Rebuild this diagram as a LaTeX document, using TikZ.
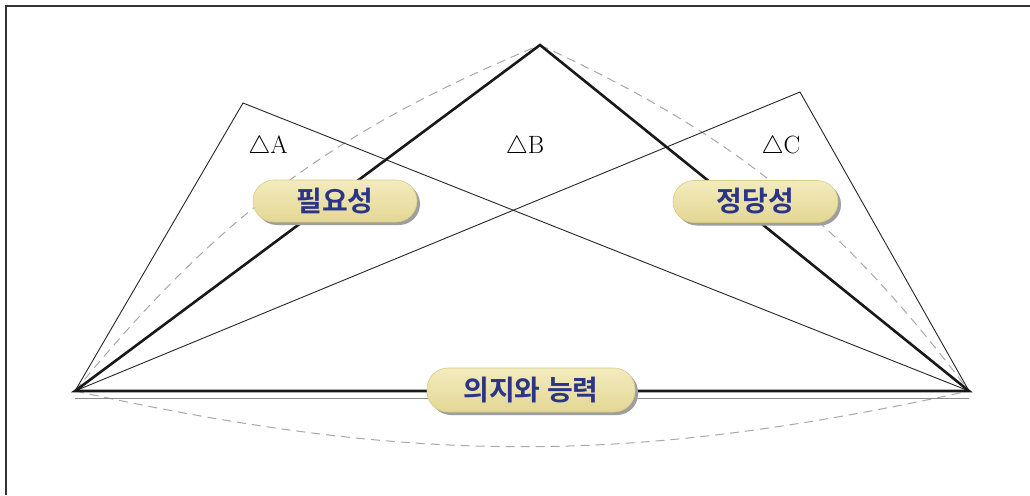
\documentclass[tikz,border=0pt]{standalone}
\usepackage{fontspec}
\newfontfamily\kor{Noto Sans CJK KR Bold}
\usetikzlibrary{shadows}
\definecolor{navy}{HTML}{2B3585}
\definecolor{pilltop}{HTML}{F3EBBE}
\definecolor{pillbot}{HTML}{E4D794}
\definecolor{pilledge}{HTML}{D9CC8A}
\definecolor{dashgray}{HTML}{A8A8A8}
\begin{document}
\begin{tikzpicture}[x=1pt,y=1pt,
  thinline/.style={line width=0.9pt, black!85},
  thickline/.style={line width=2.6pt, black!90, line join=miter},
  arcline/.style={line width=1pt, dashgray, dash pattern=on 9pt off 6pt},
  pill/.style={rounded corners=21pt, minimum height=42pt, inner sep=0pt,
    top color=pilltop, bottom color=pillbot, draw=pilledge, line width=0.6pt,
    general shadow={fill=black!38, shadow xshift=3pt, shadow yshift=-3pt},
    font={\kor\fontsize{28}{30}\selectfont}, text=navy},
  tri/.style={font=\fontsize{25}{28}\selectfont, anchor=base}]
\useasboundingbox (0,0) rectangle (1030,-495);
\fill[white] (0,0) rectangle (1030,-495);
% frame (left and top edges)
\draw[line width=1.3pt, black!80] (6,-495) -- (6,-6) -- (1030,-6);
% points
\coordinate (L) at (75,-391);
\coordinate (R) at (969,-391);
\coordinate (B) at (540,-45);
\coordinate (A) at (243,-103);
\coordinate (C) at (800,-92);
\coordinate (L2) at (75,-398.5);
\coordinate (R2) at (969,-398.5);
% dashed arcs
\draw[arcline] (L) to[bend left=14] (B);
\draw[arcline] (B) to[bend left=14] (R);
\draw[arcline] (L) to[bend right=12.3] (R);
% thin triangles
\draw[thinline] (L) -- (A) -- (R);
\draw[thinline] (L) -- (C) -- (R);
% thick triangle
\draw[thickline] (L) -- (B) -- (R) -- cycle;
% gray base line
\draw[line width=1.2pt, black!45] (L2) -- (R2);
% pills
\node[pill, minimum width=164pt] (need) at (335,-201) {필요성};
\node[pill, minimum width=165pt] (just) at (755.5,-201.5) {정당성};
\node[pill, minimum width=208pt, minimum height=44pt] (will) at (531,-390) {의지와 능력};
% triangle labels
\node[tri] (tA) at (268,-153) {$\triangle$A};
\node[tri] (tB) at (525,-153) {$\triangle$B};
\node[tri] (tC) at (781,-153) {$\triangle$C};
\end{tikzpicture}
\end{document}
